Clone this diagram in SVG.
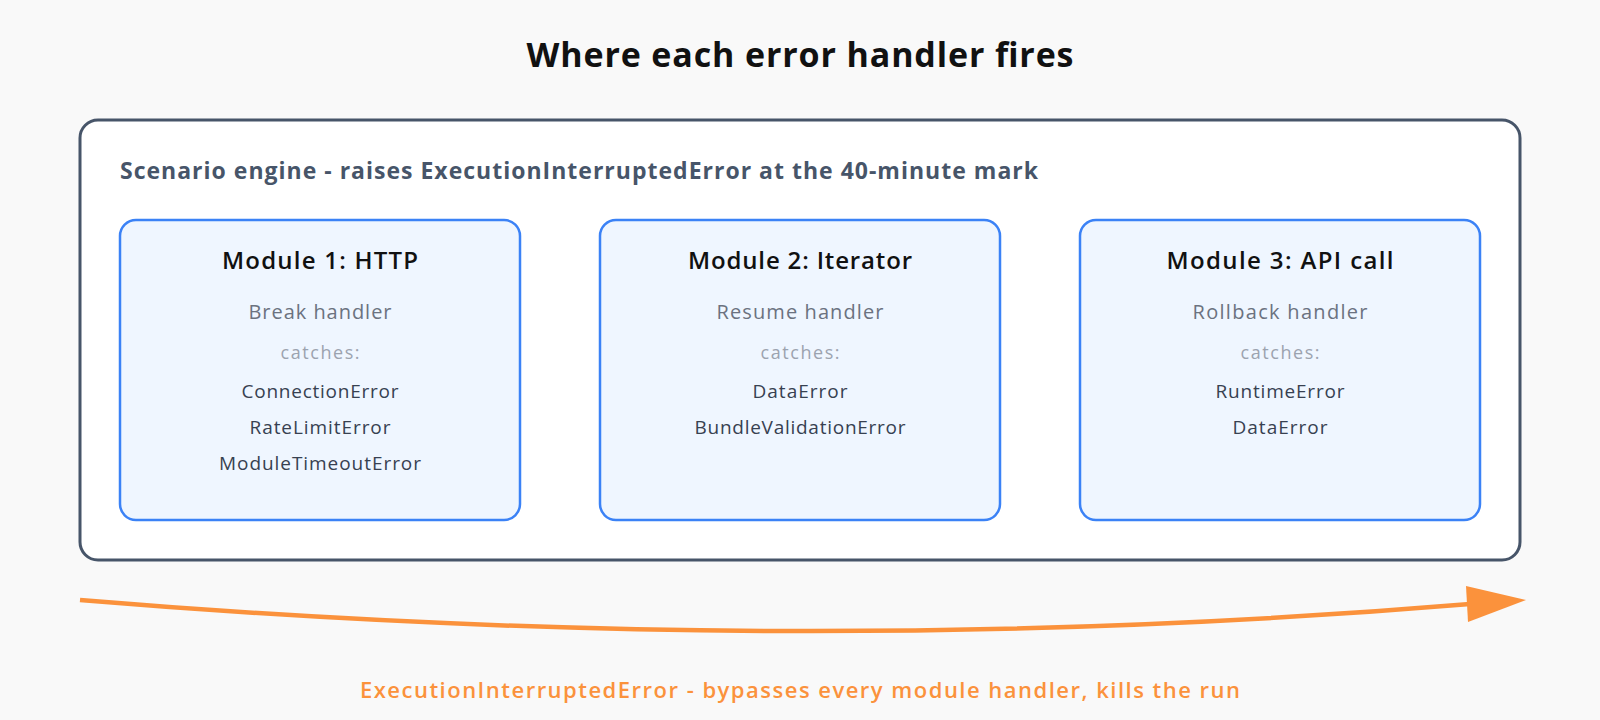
<svg xmlns="http://www.w3.org/2000/svg" width="1600" height="720" viewBox="0 0 1600 720">
<style>
text{font-family:"Open Sans","Noto Sans","DejaVu Sans",sans-serif;text-anchor:middle}
.mod{fill:#eff6ff;stroke:#3b82f6;stroke-width:2.5}
.mt{font-size:24px;font-weight:600;fill:#111}
.h{font-size:20px;fill:#6b7280}
.c{font-size:18px;fill:#9ca3af}
.e{font-size:19px;fill:#374151}
</style>
<rect width="1600" height="720" fill="#f9f9f9"/>
<text x="800" y="67" font-size="34" font-weight="700" fill="#111" textLength="547">Where each error handler fires</text>
<g id="engine">
<rect x="80" y="120" width="1440" height="440" rx="18" fill="#fff" stroke="#475569" stroke-width="3"/>
<text x="120" y="179" font-size="23" font-weight="700" fill="#475569" style="text-anchor:start" textLength="918">Scenario engine - raises ExecutionInterruptedError at the 40-minute mark</text>
</g>
<g id="m1">
<rect class="mod" x="120" y="220" width="400" height="300" rx="16"/>
<text class="mt" x="320" y="269" textLength="196">Module 1: HTTP</text>
<text class="h" x="320" y="319" textLength="143">Break handler</text>
<text class="c" x="320" y="359" textLength="79">catches:</text>
<text class="e" x="320" y="398" textLength="157">ConnectionError</text>
<text class="e" x="320" y="434" textLength="141">RateLimitError</text>
<text class="e" x="320" y="470" textLength="202">ModuleTimeoutError</text>
</g>
<g id="m2">
<rect class="mod" x="600" y="220" width="400" height="300" rx="16"/>
<text class="mt" x="800" y="269" textLength="224">Module 2: Iterator</text>
<text class="h" x="800" y="319" textLength="167">Resume handler</text>
<text class="c" x="800" y="359" textLength="79">catches:</text>
<text class="e" x="800" y="398" textLength="95">DataError</text>
<text class="e" x="800" y="434" textLength="211">BundleValidationError</text>
</g>
<g id="m3">
<rect class="mod" x="1080" y="220" width="400" height="300" rx="16"/>
<text class="mt" x="1280" y="269" textLength="227">Module 3: API call</text>
<text class="h" x="1280" y="319" textLength="175">Rollback handler</text>
<text class="c" x="1280" y="359" textLength="79">catches:</text>
<text class="e" x="1280" y="398" textLength="129">RuntimeError</text>
<text class="e" x="1280" y="434" textLength="95">DataError</text>
</g>
<g id="connectors">
<path d="M80,600 Q800,660 1470,604" fill="none" stroke="#fb923c" stroke-width="4.5"/>
<polygon points="1466,586 1526,600 1468,622" fill="#fb923c"/>
</g>
<text x="800" y="698" font-size="22" font-weight="600" fill="#fb923c" textLength="880">ExecutionInterruptedError - bypasses every module handler, kills the run</text>
</svg>
